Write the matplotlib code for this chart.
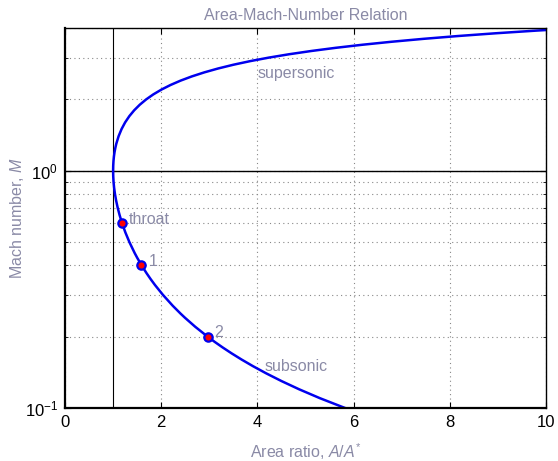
import numpy as np
import matplotlib.pyplot as plt

plt.rcParams['font.family'] = ['Liberation Sans', 'DejaVu Sans']
plt.rcParams['mathtext.fontset'] = 'custom'
plt.rcParams['mathtext.rm'] = 'Liberation Sans'
plt.rcParams['mathtext.it'] = 'Liberation Sans:italic'

# area ratio A/A* vs Mach number
mach = [0.10, 0.11, 0.12, 0.13, 0.14, 0.15, 0.16, 0.17, 0.18, 0.19, 0.20,
        0.22, 0.24, 0.25, 0.27, 0.30, 0.33, 0.35, 0.37, 0.40, 0.43, 0.45,
        0.50, 0.55, 0.60, 0.65, 0.70, 0.75, 0.80, 0.85, 0.90, 0.95, 1.00,
        1.05, 1.10, 1.15, 1.20, 1.25, 1.30, 1.40, 1.50, 1.60, 1.70, 1.80,
        1.90, 2.00, 2.10, 2.20, 2.30, 2.40, 2.50, 2.60, 2.70, 2.80, 2.90,
        3.00, 3.10, 3.20, 3.30, 3.40, 3.50, 3.60, 3.70, 3.80, 3.90, 4.00]
area = [5.8218, 5.2992, 4.8643, 4.4969, 4.1824, 3.9103, 3.6727, 3.4635,
        3.2779, 3.1123, 2.9635, 2.7076, 2.4956, 2.4027, 2.2385, 2.0351,
        1.8708, 1.7780, 1.6961, 1.5901, 1.5007, 1.4487, 1.3398, 1.2549,
        1.1882, 1.1356, 1.0944, 1.0624, 1.0382, 1.0207, 1.0089, 1.0022,
        1.0000, 1.0020, 1.0079, 1.0175, 1.0304, 1.0468, 1.0663, 1.1149,
        1.1762, 1.2502, 1.3376, 1.4390, 1.5553, 1.6875, 1.8369, 2.0050,
        2.1931, 2.4031, 2.6367, 2.8960, 3.1830, 3.5001, 3.8498, 4.2346,
        4.6573, 5.1210, 5.6286, 6.1837, 6.7896, 7.4501, 8.1691, 8.9506,
        9.7989, 10.7188]

pt_area = [1.1882, 1.5901, 2.9635]
pt_mach = [0.6, 0.4, 0.2]
pt_names = ['throat', '1', '2']

txt = '#8a8aa6'

fig = plt.figure(figsize=(5.58, 4.61), dpi=100)
ax = fig.add_axes([65/558, 1 - 408/461, (546-65)/558, (408-28)/461])

ax.set_yscale('log')
ax.set_xlim(0, 10)
ax.set_ylim(0.1, 4)

ax.grid(True, which='both', linestyle=(0, (1, 3)), color='#888888', linewidth=0.8)
ax.axhline(1.0, color='black', linewidth=1.0)
ax.axvline(1.0, color='black', linewidth=0.8)

ax.plot(area, mach, color='#0000ee', linewidth=1.8)
ax.plot(pt_area, pt_mach, 'o', markersize=6, markerfacecolor='red',
        markeredgecolor='#0000ee', markeredgewidth=1.6, linestyle='none')
for a, m, s in zip(pt_area, pt_mach, pt_names):
    ax.annotate(s, (a, m), xytext=(5, 3), textcoords='offset points',
                color=txt, fontsize=11.5, va='center')

ax.text(4.0, 2.58, 'supersonic', color=txt, fontsize=11.5, va='center')
ax.text(4.15, 0.150, 'subsonic', color=txt, fontsize=11.5, va='center')

ax.set_xticks([0, 2, 4, 6, 8, 10])
ax.tick_params(axis='both', which='both', direction='in', labelsize=12,
               top=True, right=True)
ax.tick_params(which='major', length=4, pad=5)
ax.tick_params(which='minor', length=2)
ax.set_yticks([0.1, 1])
for sp in ax.spines.values():
    sp.set_linewidth(1.0)
ax.spines['left'].set_linewidth(1.6)
ax.spines['bottom'].set_linewidth(1.6)

ax.set_title('Area-Mach-Number Relation', color=txt, fontsize=11.5, pad=6)
ax.set_xlabel('Area ratio, $A/A^{*}$', color=txt, fontsize=11.5, labelpad=8)
ax.set_ylabel('Mach number, $M$', color=txt, fontsize=11.5)
ax.yaxis.set_label_coords(-0.082, 0.5)

fig.savefig('out.png', dpi=100)
